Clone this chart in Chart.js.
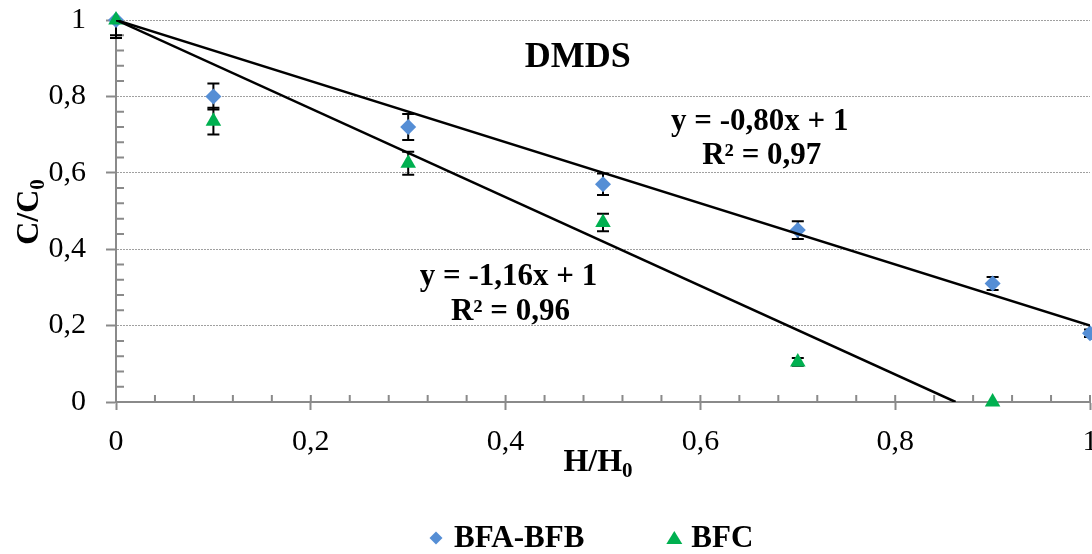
<!DOCTYPE html>
<html>
<head>
<meta charset="utf-8">
<script src="https://cdn.jsdelivr.net/npm/chart.js@4.4.1/dist/chart.umd.min.js"></script>
<style>
html, body { margin: 0; padding: 0; background: #fff; }
</style>
</head>
<body>
<canvas id="chart" width="1092" height="554"></canvas>
<script>
// H/H0 values
const hRatio = [0, 0.1, 0.3, 0.5, 0.7, 0.9, 1.0];
const hRatioBfc = [0, 0.1, 0.3, 0.5, 0.7, 0.9];

// C/C0 values with error bars
const bfaBfb = [1.0, 0.80, 0.72, 0.57, 0.45, 0.31, 0.18];
const bfaBfbErr = [0.04, 0.034, 0.034, 0.028, 0.023, 0.017, 0.01];
const bfc = [1.0, 0.735, 0.625, 0.47, 0.105, 0.0];
const bfcErr = [0.047, 0.035, 0.03, 0.023, 0.01, 0];

// linear trendlines (end points)
const trendX1 = [0, 1];
const trendY1 = [1, 0.2];
const trendX2 = [0, 0.862];
const trendY2 = [1, 0];

const yTicks = [0, 0.2, 0.4, 0.6, 0.8, 1];
const xTicks = [0, 0.2, 0.4, 0.6, 0.8, 1];

const serif = "'Liberation Serif', 'Times New Roman', serif";
const axisGrey = '#8a8a8a';

function toPoints(xs, ys) {
    return xs.map((x, i) => ({ x: x, y: ys[i] }));
}

function fmt(v) {
    return Number(v.toFixed(2)).toString().replace('.', ',');
}

const extras = {
    id: 'extras',
    beforeDatasetsDraw(chart) {
        const ctx = chart.ctx;
        const xs = chart.scales.x, ys = chart.scales.y;
        const area = chart.chartArea;
        ctx.save();
        // minor ticks, inside the plot
        ctx.strokeStyle = axisGrey;
        ctx.lineWidth = 2;
        ctx.beginPath();
        for (let k = 0; k <= 25; k++) {
            const v = k * 0.04;
            const py = ys.getPixelForValue(v);
            const px = xs.getPixelForValue(v);
            if (k % 5 !== 0) {
                ctx.moveTo(area.left, py); ctx.lineTo(area.left + 8, py);
            }
            ctx.moveTo(px, area.bottom); ctx.lineTo(px, area.bottom - 7);
        }
        ctx.stroke();
        // error bars
        ctx.strokeStyle = '#000';
        ctx.lineWidth = 2;
        chart.data.datasets.forEach(ds => {
            if (!ds.errors) return;
            ds.data.forEach((p, i) => {
                const e = ds.errors[i];
                if (!e) return;
                const px = xs.getPixelForValue(p.x);
                const top = Math.max(ys.getPixelForValue(p.y + e), area.top);
                const bot = ys.getPixelForValue(p.y - e);
                ctx.beginPath();
                ctx.moveTo(px, top); ctx.lineTo(px, bot);
                if (p.y + e <= 1) { ctx.moveTo(px - 6, top); ctx.lineTo(px + 6, top); }
                ctx.moveTo(px - 6, bot); ctx.lineTo(px + 6, bot);
                ctx.stroke();
            });
        });
        ctx.restore();
    },
    afterDraw(chart) {
        const ctx = chart.ctx;
        const xs = chart.scales.x, ys = chart.scales.y;
        ctx.save();
        ctx.fillStyle = '#000';
        ctx.textAlign = 'center';
        ctx.textBaseline = 'middle';

        // title
        ctx.font = 'bold 36px ' + serif;
        ctx.fillText('DMDS', xs.getPixelForValue(0.474), 58);

        // trendline equations
        ctx.font = 'bold 31px ' + serif;
        ctx.fillText('y = -0,80x + 1', xs.getPixelForValue(0.661), ys.getPixelForValue(0.733));
        ctx.fillText('R² = 0,97', xs.getPixelForValue(0.663), ys.getPixelForValue(0.644));
        ctx.fillText('y = -1,16x + 1', xs.getPixelForValue(0.403), ys.getPixelForValue(0.327));
        ctx.fillText('R² = 0,96', xs.getPixelForValue(0.405), ys.getPixelForValue(0.236));

        // axis titles with subscript
        function subText(main, sub, cx, cy) {
            ctx.font = 'bold 32px ' + serif;
            const w1 = ctx.measureText(main).width;
            ctx.font = 'bold 21px ' + serif;
            const w2 = ctx.measureText(sub).width;
            const x0 = cx - (w1 + w2) / 2;
            ctx.textAlign = 'left';
            ctx.textBaseline = 'alphabetic';
            ctx.font = 'bold 32px ' + serif;
            ctx.fillText(main, x0, cy + 11);
            ctx.font = 'bold 21px ' + serif;
            ctx.fillText(sub, x0 + w1, cy + 17);
        }
        subText('H/H', '0', 598, 460);
        ctx.save();
        ctx.translate(27, 212);
        ctx.rotate(-Math.PI / 2);
        subText('C/C', '0', 0, 0);
        ctx.restore();

        // legend
        const items = chart.data.datasets.filter(d => d.inLegend);
        ctx.font = 'bold 31px ' + serif;
        ctx.textAlign = 'left';
        ctx.textBaseline = 'middle';
        let lx = 430;
        const ly = 538;
        items.forEach(d => {
            ctx.fillStyle = d.backgroundColor;
            ctx.beginPath();
            if (d.pointStyle === 'triangle') {
                ctx.moveTo(lx + 7, ly - 7); ctx.lineTo(lx + 15, ly + 6); ctx.lineTo(lx - 1, ly + 6);
            } else {
                ctx.moveTo(lx + 6, ly - 6.5); ctx.lineTo(lx + 12.5, ly); ctx.lineTo(lx + 6, ly + 6.5); ctx.lineTo(lx - 0.5, ly);
            }
            ctx.closePath();
            ctx.fill();
            ctx.fillStyle = '#000';
            ctx.fillText(d.label, lx + 24, ly + 1);
            lx += 24 + ctx.measureText(d.label).width + 83;
        });
        ctx.restore();
    }
};

new Chart(document.getElementById('chart'), {
    type: 'scatter',
    data: {
        datasets: [
            {
                label: 'BFA-BFB',
                data: toPoints(hRatio, bfaBfb),
                errors: bfaBfbErr,
                inLegend: true,
                pointStyle: 'rectRot',
                pointRadius: 8,
                backgroundColor: '#558ed5',
                borderWidth: 0,
                clip: false,
                order: 3
            },
            {
                label: 'BFC',
                data: toPoints(hRatioBfc, bfc),
                errors: bfcErr,
                inLegend: true,
                pointStyle: 'triangle',
                pointRadius: 9,
                backgroundColor: '#00b050',
                borderWidth: 0,
                clip: false,
                order: 2
            },
            {
                label: 'trend BFA-BFB',
                data: toPoints(trendX1, trendY1),
                showLine: true,
                pointRadius: 0,
                borderColor: '#000',
                borderWidth: 2.5,
                order: 1
            },
            {
                label: 'trend BFC',
                data: toPoints(trendX2, trendY2),
                showLine: true,
                pointRadius: 0,
                borderColor: '#000',
                borderWidth: 2.5,
                order: 0
            }
        ]
    },
    options: {
        responsive: false,
        animation: false,
        devicePixelRatio: 1,
        layout: { autoPadding: false, padding: { top: 20, right: 2, left: 0, bottom: 0 } },
        plugins: {
            legend: { display: false },
            tooltip: { enabled: false }
        },
        scales: {
            x: {
                type: 'linear',
                min: 0,
                max: 1,
                afterBuildTicks(s) { s.ticks = xTicks.map(v => ({ value: v })); },
                afterFit(s) { s.height = 152; s.paddingRight = 0; s.paddingLeft = 0; },
                ticks: {
                    padding: 14,
                    maxRotation: 0,
                    color: '#000',
                    font: { family: serif, size: 30 },
                    callback: v => fmt(v)
                },
                grid: {
                    drawOnChartArea: false,
                    tickLength: 8,
                    tickColor: axisGrey,
                    tickWidth: 2
                },
                border: { color: axisGrey, width: 2 }
            },
            y: {
                type: 'linear',
                min: 0,
                max: 1,
                afterBuildTicks(s) { s.ticks = yTicks.map(v => ({ value: v })); },
                afterFit(s) { s.width = 116; s.paddingTop = 0; s.paddingBottom = 0; },
                ticks: {
                    padding: 20,
                    color: '#000',
                    font: { family: serif, size: 30 },
                    callback: v => fmt(v)
                },
                grid: {
                    color: '#a0a0a0',
                    lineWidth: 1,
                    tickLength: 10,
                    tickColor: axisGrey,
                    tickWidth: 2,
                    tickBorderDash: []
                },
                border: { color: axisGrey, width: 2, dash: [2, 1] }
            }
        }
    },
    plugins: [extras]
});
</script>
</body>
</html>
